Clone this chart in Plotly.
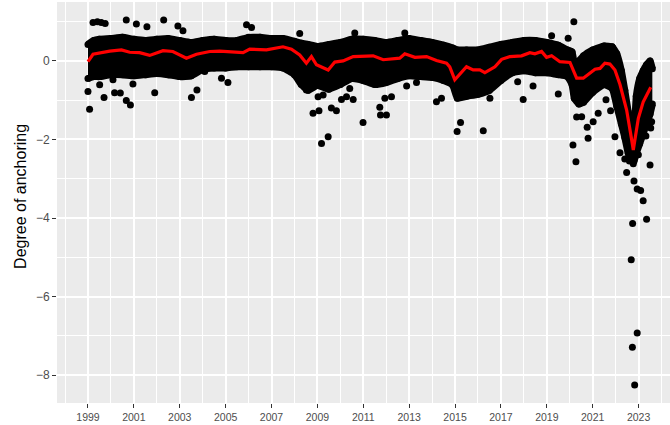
import plotly.graph_objects as go

# ---- data (decimal years, degree of anchoring) ----
# dense band of daily points: upper / lower envelope of the point cloud
band_years = [1999.00, 1999.25, 1999.50, 2000.00, 2000.50, 2001.00, 2001.50, 2002.00, 2002.50,
              2003.00, 2003.50, 2004.00, 2004.50, 2005.00, 2005.50, 2006.00, 2006.50, 2007.00,
              2007.50, 2008.00, 2008.30, 2008.60, 2009.00, 2009.50, 2010.00, 2010.50, 2011.00,
              2011.50, 2012.00, 2012.50, 2013.00, 2013.50, 2014.00, 2014.50, 2014.90, 2015.10,
              2015.50, 2016.00, 2016.50, 2017.00, 2017.50, 2018.00, 2018.50, 2019.00, 2019.50,
              2019.90, 2020.10, 2020.20, 2020.40, 2020.60, 2021.00, 2021.50, 2021.85, 2022.05,
              2022.25, 2022.40, 2022.55, 2022.70, 2022.80, 2022.90, 2023.05, 2023.20, 2023.35,
              2023.50, 2023.60]
band_hi = [0.42, 0.52, 0.55, 0.57, 0.60, 0.55, 0.52, 0.55, 0.57,
           0.52, 0.47, 0.52, 0.55, 0.52, 0.52, 0.60, 0.60, 0.57,
           0.57, 0.50, 0.45, 0.42, 0.37, 0.42, 0.47, 0.55, 0.55,
           0.52, 0.47, 0.52, 0.57, 0.52, 0.47, 0.40, 0.33, 0.28,
           0.28, 0.28, 0.35, 0.42, 0.47, 0.52, 0.52, 0.47, 0.40,
           0.28, 0.23, -0.05, 0.00, 0.13, 0.28, 0.38, 0.36, 0.18,
           -0.25, -0.75, -1.30, -1.90, -1.80, -0.90, -0.45, -0.25, -0.10,
           0.00, -0.20]
band_lo = [-0.45, -0.40, -0.40, -0.35, -0.35, -0.38, -0.35, -0.32, -0.35,
           -0.40, -0.38, -0.22, -0.18, -0.18, -0.15, -0.15, -0.15, -0.15,
           -0.18, -0.35, -0.60, -0.75, -0.62, -0.72, -0.60, -0.45, -0.50,
           -0.60, -0.55, -0.45, -0.38, -0.40, -0.42, -0.50, -0.62, -0.95,
           -0.90, -0.85, -0.75, -0.50, -0.30, -0.25, -0.30, -0.30, -0.35,
           -0.40, -0.60, -0.95, -1.10, -1.05, -0.80, -0.60, -0.70, -1.15,
           -1.60, -1.95, -2.35, -2.55, -2.55, -2.35, -2.10, -1.85, -1.60,
           -1.35, -1.10]

# individual points lying outside the dense band
outlier_years = [1999.22, 1999.41, 1999.58, 1999.75, 2000.67, 2001.11, 2001.57, 2002.30, 2002.92,
                 2003.14, 2005.91, 2006.13, 2008.23, 2010.63, 2012.81, 2019.21, 2019.93, 2020.18,
                 1999.00, 1999.07, 1999.51, 1999.70, 2000.09, 2000.16, 2000.41, 2000.67, 2000.85,
                 2000.96, 2001.91, 2003.51, 2003.75, 2004.09, 2004.82, 2005.10, 2008.52, 2008.81,
                 2009.03, 2009.07, 2009.18, 2009.25, 2009.47, 2009.61, 2009.83, 2010.05, 2010.27,
                 2010.41, 2010.56, 2010.99, 2011.72, 2011.75, 2011.94, 2012.01, 2012.23, 2012.89,
                 2013.32, 2014.19, 2014.41, 2015.09, 2015.24, 2016.23, 2016.52, 2017.73, 2017.97,
                 2018.40, 2019.50, 2020.14, 2020.27, 2020.30, 2020.52, 2020.76, 2020.80, 2021.02,
                 2021.24, 2021.58, 2021.78, 2021.97, 2022.19, 2022.48, 2022.55, 2022.40, 2022.60,
                 2022.77, 2022.48, 2022.80, 2022.94, 2022.99, 2022.99, 2023.09, 2023.20, 2023.35,
                 2023.50, 2023.53, 2023.57, 2023.32, 2022.74, 2022.68, 2022.94, 2022.73, 2022.83]
outlier_vals = [0.98, 1.00, 0.98, 0.95, 1.04, 0.94, 0.87, 1.04, 0.89,
                0.77, 0.92, 0.85, 0.70, 0.71, 0.71, 0.64, 0.58, 1.00,
                -0.78, -1.23, -0.61, -0.93, -0.48, -0.81, -0.82, -1.01, -1.12,
                -0.59, -0.81, -0.93, -0.74, -0.27, -0.44, -0.55, -0.74, -1.33,
                -0.91, -1.27, -2.10, -0.87, -1.93, -1.20, -1.27, -0.98, -0.91,
                -0.70, -0.98, -1.57, -1.18, -1.38, -0.95, -1.38, -0.91, -0.64,
                -0.55, -1.04, -0.95, -1.80, -1.57, -1.78, -0.95, -0.53, -0.98,
                -0.64, -0.84, -2.14, -2.57, -1.43, -1.42, -1.69, -1.97, -1.55,
                -1.33, -0.99, -1.27, -1.93, -2.34, -2.01, -2.29, -2.50, -2.55,
                -2.62, -2.84, -3.06, -3.26, -2.08, -2.39, -3.30, -3.56, -4.03,
                -2.65, -1.71, -1.55, -1.91, -4.14, -5.06, -6.93, -7.29, -8.25]

# red smoothed line
line_years = [1999.00, 1999.22, 1999.95, 2000.46, 2000.82, 2001.25, 2001.69, 2002.27, 2002.70,
              2003.29, 2003.73, 2004.31, 2004.74, 2005.76, 2006.05, 2006.78, 2007.50, 2007.87,
              2008.23, 2008.52, 2008.74, 2008.96, 2009.47, 2009.76, 2010.12, 2010.56, 2011.43,
              2011.87, 2012.59, 2012.81, 2013.25, 2013.76, 2014.19, 2014.63, 2014.77, 2014.99,
              2015.50, 2015.79, 2016.08, 2016.30, 2016.74, 2017.03, 2017.39, 2017.90, 2018.26,
              2018.48, 2018.77, 2018.99, 2019.21, 2019.57, 2020.01, 2020.30, 2020.59, 2021.10,
              2021.32, 2021.53, 2021.75, 2021.97, 2022.19, 2022.48, 2022.70, 2022.77, 2022.99,
              2023.20, 2023.53]
line_vals = [-0.02, 0.17, 0.25, 0.28, 0.22, 0.21, 0.14, 0.26, 0.24,
             0.07, 0.17, 0.24, 0.25, 0.21, 0.30, 0.28, 0.36, 0.30,
             0.15, -0.06, 0.11, -0.10, -0.23, -0.03, 0.00, 0.11, 0.13,
             0.03, 0.07, 0.18, 0.09, 0.11, 0.01, -0.06, -0.15, -0.48,
             -0.15, -0.23, -0.23, -0.30, -0.15, 0.04, 0.11, 0.13, 0.21,
             0.18, 0.24, 0.09, 0.13, -0.02, -0.04, -0.44, -0.44, -0.21,
             -0.19, -0.06, -0.08, -0.23, -0.60, -1.25, -2.01, -2.27, -1.46,
             -1.05, -0.67]

x_tick_years = [1999, 2001, 2003, 2005, 2007, 2009, 2011, 2013, 2015, 2017, 2019, 2021, 2023]
x_minor_years = [1998, 2000, 2002, 2004, 2006, 2008, 2010, 2012, 2014, 2016, 2018, 2020, 2022, 2024]
y_tick_vals = [-8, -6, -4, -2, 0]
y_tick_text = ["\u22128", "\u22126", "\u22124", "\u22122", "0"]
y_minor_vals = [-7, -5, -3, -1, 1]

fig = go.Figure()

fig.add_trace(go.Scatter(
    x=band_years, y=band_hi, mode="lines+markers",
    line=dict(color="black", width=7, shape="spline", smoothing=0.4),
    marker=dict(color="black", size=7), hoverinfo="skip", showlegend=False))
fig.add_trace(go.Scatter(
    x=band_years, y=band_lo, mode="lines+markers", fill="tonexty", fillcolor="black",
    line=dict(color="black", width=7, shape="spline", smoothing=0.4),
    marker=dict(color="black", size=7), hoverinfo="skip", showlegend=False))
fig.add_trace(go.Scatter(
    x=outlier_years, y=outlier_vals, mode="markers",
    marker=dict(color="black", size=7), showlegend=False))
fig.add_trace(go.Scatter(
    x=line_years, y=line_vals, mode="lines",
    line=dict(color="#FF0000", width=3.2), showlegend=False))

fig.update_layout(
    width=670, height=425,
    margin=dict(l=57, r=0, t=2, b=22),
    paper_bgcolor="white", plot_bgcolor="#EBEBEB",
    font=dict(family="Liberation Sans, Arial, sans-serif"),
    showlegend=False,
)
fig.update_xaxes(
    range=[1997.65, 2024.37], tickmode="array", tickvals=x_tick_years,
    ticktext=[str(v) for v in x_tick_years],
    tickfont=dict(size=10.5, color="#4D4D4D"),
    ticks="outside", ticklen=4, tickcolor="#333333", tickwidth=1,
    showgrid=True, gridcolor="white", gridwidth=1.6, zeroline=False, showline=False,
    automargin=False,
    minor=dict(tickvals=x_minor_years, showgrid=True, gridcolor="white", gridwidth=0.8, ticks=""),
)
fig.update_yaxes(
    range=[-8.71, 1.50], tickmode="array", tickvals=y_tick_vals, ticktext=y_tick_text,
    tickfont=dict(size=12, color="#4D4D4D"),
    ticks="outside", ticklen=4, tickcolor="#333333", tickwidth=1,
    showgrid=True, gridcolor="white", gridwidth=1.6, zeroline=False, showline=False,
    automargin=False,
    minor=dict(tickvals=y_minor_vals, showgrid=True, gridcolor="white", gridwidth=0.8, ticks=""),
)
fig.add_annotation(
    text="Degree of anchoring", textangle=-90, xref="paper", yref="paper",
    x=-0.0587, y=0.514, xanchor="center", yanchor="middle", showarrow=False,
    font=dict(size=16, color="black", family="Liberation Sans, Arial, sans-serif"))

fig.write_html("out.html", config={"displayModeBar": False},
               post_script="document.body.style.margin='0';document.body.style.overflow='hidden';")
